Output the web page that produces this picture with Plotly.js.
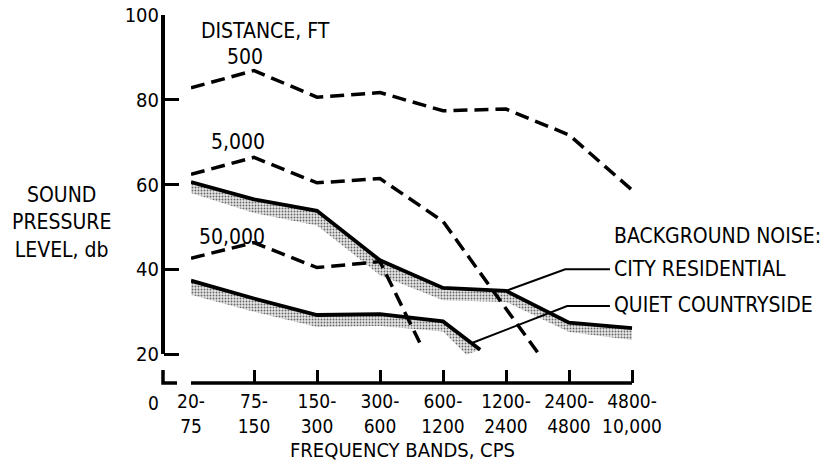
<!DOCTYPE html>
<html><head><meta charset="utf-8">
<script src="https://cdn.plot.ly/plotly-3.0.1.min.js"></script>
<style>html,body{margin:0;padding:0;background:#fff}</style>
</head><body><div id="chart" style="width:825px;height:464px"></div>
<script>
// ---- data ----
const bandLabels = ["20-<br>75","75-<br>150","150-<br>300","300-<br>600","600-<br>1200","1200-<br>2400","2400-<br>4800","4800-<br>10,000"];
const bandPos = [0,1,2,3,4,5,6,7];
const yTicks = [20,40,60,80,100];

const ft500X = [0,1,2,3,4,5,6,7];
const ft500 = [82.8, 86.9, 80.6, 81.7, 77.4, 77.8, 71.7, 58.7];
const ft5000X = [0,1,2,3,4,5.51];
const ft5000 = [62.4, 66.4, 60.4, 61.4, 51.3, 20.2];
const ft50000X = [0,1,2,3,3.63];
const ft50000 = [42.6, 46.3, 40.4, 41.8, 22.7];

const cityX = [0,1,2,3,4,5,6,7];
const city = [60.6, 56.5, 53.8, 42.1, 35.6, 34.9, 27.4, 26.1];
const cityShadeLowX = [0,1,2,3,4,5,6,7];
const cityShadeLow = [58.0, 53.3, 50.3, 38.6, 32.7, 32.3, 25.2, 23.3];

const quietX = [0,1,2,3,4,4.59];
const quiet = [37.3, 33.1, 29.2, 29.4, 27.7, 21.0];
const quietShadeLowX = [0,1,2,3,4,4.37];
const quietShadeLow = [34.0, 30.0, 26.4, 26.6, 25.3, 19.8];

// leader line anchors (band position, dB) for the legend labels
const cityLeader = {x:[5, 5.94, 6.65], y:[city[5], 40.0, 40.0]};
const quietLeader = {x:[4.46, 5.97, 6.65], y:[22.6, 31.3, 31.3]};

// ---- layout geometry ----
const W = 825, H = 464;
const L = 163, R = 820, T = 15, B = 383;
const pw = R - L, ph = B - T;
const X0 = 191, XSTEP = 63;
const Y100 = 15, Y20 = 354;
const pxPerDb = (Y20 - Y100) / 80;
const yMin = 20 - (B - Y20) / pxPerDb;
const xMax = (R - X0) / XSTEP;
const fx = p => (p - L) / pw;
const fy = p => (B - p) / ph;

const FONT = "'Liberation Sans Narrow', 'DejaVu Sans Condensed', 'Arial Narrow', sans-serif";
const font = {family: FONT, size: 21, color: '#000'};
const tickFont = {family: FONT, size: 19, color: '#000'};

function shade(lx, ly, bx, by) {
  return {
    x: lx.concat(bx.slice().reverse()),
    y: ly.concat(by.slice().reverse()),
    type: 'scatter', mode: 'lines', fill: 'toself',
    line: {width: 0, color: 'rgba(0,0,0,0)'},
    fillcolor: '#e4e4e4',
    fillpattern: {shape: '.', size: 3, solidity: 0.3, fgcolor: '#666', bgcolor: '#e6e6e6', fillmode: 'replace'},
    hoverinfo: 'skip', showlegend: false
  };
}
const dashLine = {color: '#000', width: 3.5, dash: '14px,7px'};
const solidLine = {color: '#000', width: 3.8};

const traces = [
  shade(cityX, city, cityShadeLowX, cityShadeLow),
  shade(quietX, quiet, quietShadeLowX, quietShadeLow),
  {x: ft500X, y: ft500, type: 'scatter', mode: 'lines', line: dashLine, name: '500 ft'},
  {x: ft5000X, y: ft5000, type: 'scatter', mode: 'lines', line: dashLine, name: '5,000 ft'},
  {x: ft50000X, y: ft50000, type: 'scatter', mode: 'lines', line: dashLine, name: '50,000 ft'},
  {x: cityX, y: city, type: 'scatter', mode: 'lines', line: solidLine, name: 'City residential'},
  {x: quietX, y: quiet, type: 'scatter', mode: 'lines', line: solidLine, name: 'Quiet countryside'},
  {x: cityLeader.x, y: cityLeader.y, type: 'scatter', mode: 'lines', line: {color: '#000', width: 2}, hoverinfo: 'skip'},
  {x: quietLeader.x, y: quietLeader.y, type: 'scatter', mode: 'lines', line: {color: '#000', width: 2}, hoverinfo: 'skip'}
];

function ann(text, x, y, xanchor, extra) {
  return Object.assign({text, x: fx(x), y: fy(y), xref: 'paper', yref: 'paper',
    xanchor: xanchor || 'center', yanchor: 'middle', showarrow: false, font}, extra || {});
}

const layout = {
  width: W, height: H, showlegend: false,
  paper_bgcolor: '#fff', plot_bgcolor: 'rgba(0,0,0,0)',
  margin: {l: L, r: W - R, t: T, b: H - B, pad: 0},
  font,
  xaxis: {
    domain: [fx(X0), 1], range: [0, xMax], showgrid: false, zeroline: false, showline: false,
    tickmode: 'array', tickvals: bandPos, ticktext: bandLabels,
    ticks: 'inside', ticklen: 13, tickwidth: 3, tickcolor: '#000', tickfont: tickFont,
    ticklabelstandoff: 5, fixedrange: true
  },
  yaxis: {
    anchor: 'free', position: 0, domain: [0, 1], range: [yMin, 100],
    showgrid: false, zeroline: false, showline: false,
    tickmode: 'array', tickvals: yTicks, ticktext: yTicks.map(String),
    ticks: 'inside', ticklen: 15, tickwidth: 3, tickcolor: '#000', tickfont: {family: FONT, size: 20, color: '#000'},
    ticklabelstandoff: 4, fixedrange: true
  },
  shapes: [
    {type: 'line', xref: 'paper', yref: 'y', x0: 0, x1: 0, y0: 20, y1: 100, line: {color: '#000', width: 4}},
    {type: 'path', xref: 'paper', yref: 'paper',
      path: `M ${fx(163)} ${fy(370)} L ${fx(163)} ${fy(383)} L ${fx(177)} ${fy(383)}`,
      line: {color: '#000', width: 3.5}},
    {type: 'line', xref: 'x', yref: 'paper', x0: 0, x1: 7, y0: 0, y1: 0, line: {color: '#000', width: 3.5}}
  ],
  annotations: [
    ann('DISTANCE, FT', 265, 31),
    ann('500', 245, 57),
    ann('5,000', 238, 142),
    ann('50,000', 232, 237),
    ann('SOUND<br>PRESSURE<br>LEVEL, db', 61, 222.5, 'center', {align: 'center'}),
    ann('BACKGROUND NOISE:', 612, 236, 'left'),
    ann('CITY RESIDENTIAL', 612, 268.5, 'left'),
    ann('QUIET COUNTRYSIDE', 612, 305, 'left'),
    ann('0', 153, 403, 'center', {font: tickFont}),
    ann('FREQUENCY BANDS, CPS', 402, 450, 'center', {font: {family: FONT, size: 20, color: '#000'}})
  ]
};

Plotly.newPlot('chart', traces, layout, {staticPlot: true, displayModeBar: false});
</script></body></html>
